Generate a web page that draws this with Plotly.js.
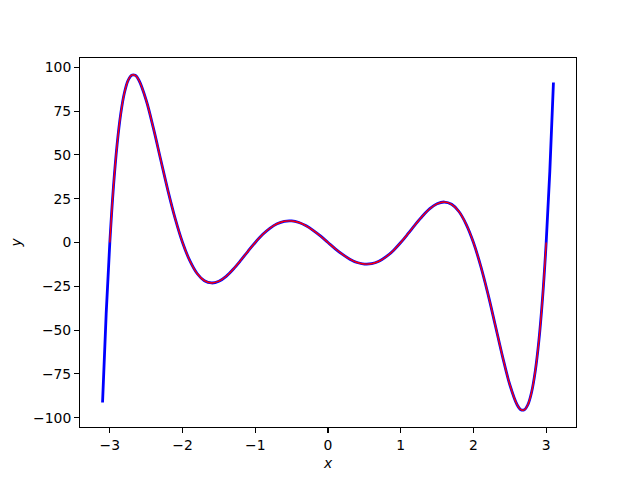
<!DOCTYPE html>
<html>
<head>
<meta charset="utf-8">
<script src="https://cdn.plot.ly/plotly-3.0.1.min.js"></script>
<style>html,body{margin:0;padding:0;background:#fff;}#chart{width:640px;height:480px;}</style>
</head>
<body>
<div id="chart"></div>
<script>
// Curve values (x, y)
var xValues = [-3.1, -3.05, -3.0, -2.95, -2.9, -2.85, -2.8, -2.75, -2.7, -2.65, -2.6, -2.5, -2.4, -2.3, -2.2, -2.1, -2.0,
  -1.9, -1.8, -1.7, -1.6, -1.5, -1.4, -1.3, -1.2, -1.1, -1.0, -0.9, -0.8, -0.7, -0.6, -0.5, -0.4, -0.3, -0.2, -0.1,
  0.0, 0.1, 0.2, 0.3, 0.4, 0.5, 0.6, 0.7, 0.8, 0.9, 1.0, 1.1, 1.2, 1.3, 1.4, 1.5, 1.6, 1.7, 1.8, 1.9,
  2.0, 2.1, 2.2, 2.3, 2.4, 2.5, 2.6, 2.65, 2.7, 2.75, 2.8, 2.85, 2.9, 2.95, 3.0, 3.05, 3.1];
var yValues = [-91.3, -40.6, 0.0, 31.8, 55.9, 73.4, 85.3, 92.4, 95.5, 95.4, 92.6, 81.2, 65.1, 47.2, 29.5, 13.5, 0.0,
  -10.4, -17.7, -21.8, -23.1, -22.1, -19.3, -15.1, -10.2, -5.0, 0.0, 4.5, 8.1, 10.7, 12.1, 12.3, 11.4, 9.5, 6.8, 3.6,
  0.0, -3.6, -6.8, -9.5, -11.4, -12.3, -12.1, -10.7, -8.1, -4.5, 0.0, 5.0, 10.2, 15.1, 19.3, 22.1, 23.1, 21.8, 17.7, 10.4,
  0.0, -13.5, -29.5, -47.2, -65.1, -81.2, -92.6, -95.4, -95.5, -92.4, -85.3, -73.4, -55.9, -31.8, 0.0, 40.6, 91.3];
// red curve covers x in [-3, 3]
var redXMin = -3.0, redXMax = 3.0;
var xTicks = [-3, -2, -1, 0, 1, 2, 3];
var yTicks = [-100, -75, -50, -25, 0, 25, 50, 75, 100];

var redX = [], redY = [];
for (var i = 0; i < xValues.length; i++) {
  if (xValues[i] >= redXMin - 1e-9 && xValues[i] <= redXMax + 1e-9) { redX.push(xValues[i]); redY.push(yValues[i]); }
}

var traces = [
  {x: xValues, y: yValues, type: 'scatter', mode: 'lines', line: {color: '#0000ff', width: 2.8, shape: 'spline', smoothing: 1}, hoverinfo: 'skip'},
  {x: redX, y: redY, type: 'scatter', mode: 'lines', line: {color: '#ff0000', width: 1.4, shape: 'spline', smoothing: 1}, hoverinfo: 'skip'}
];

var font = {family: 'DejaVu Sans', size: 13.9, color: '#000'};
var layout = {
  width: 640, height: 480,
  margin: {l: 80, r: 64, t: 58, b: 53, pad: 0},
  paper_bgcolor: '#fff', plot_bgcolor: '#fff',
  showlegend: false,
  font: font,
  xaxis: {
    range: [-3.41, 3.41], tickvals: xTicks, ticktext: xTicks.map(function(v){return v < 0 ? '\u2212' + Math.abs(v) : String(v);}),
    showgrid: false, zeroline: false, showline: true, linecolor: '#000', linewidth: 1.1, mirror: true,
    ticks: 'outside', ticklen: 4.9, tickwidth: 1.1, tickcolor: '#000', tickfont: font,
    title: {text: '<i>x</i>', font: font, standoff: 6}
  },
  yaxis: {
    range: [-105.3, 105.3], tickvals: yTicks, ticktext: yTicks.map(function(v){return v < 0 ? '\u2212' + Math.abs(v) : String(v);}),
    showgrid: false, zeroline: false, showline: true, linecolor: '#000', linewidth: 1.1, mirror: true,
    ticks: 'outside', ticklen: 4.9, tickwidth: 1.1, tickcolor: '#000', tickfont: font,
    title: {text: '<i>y</i>', font: font, standoff: 8}
  }
};
Plotly.newPlot('chart', traces, layout, {displayModeBar: false, staticPlot: true});
</script>
</body>
</html>
